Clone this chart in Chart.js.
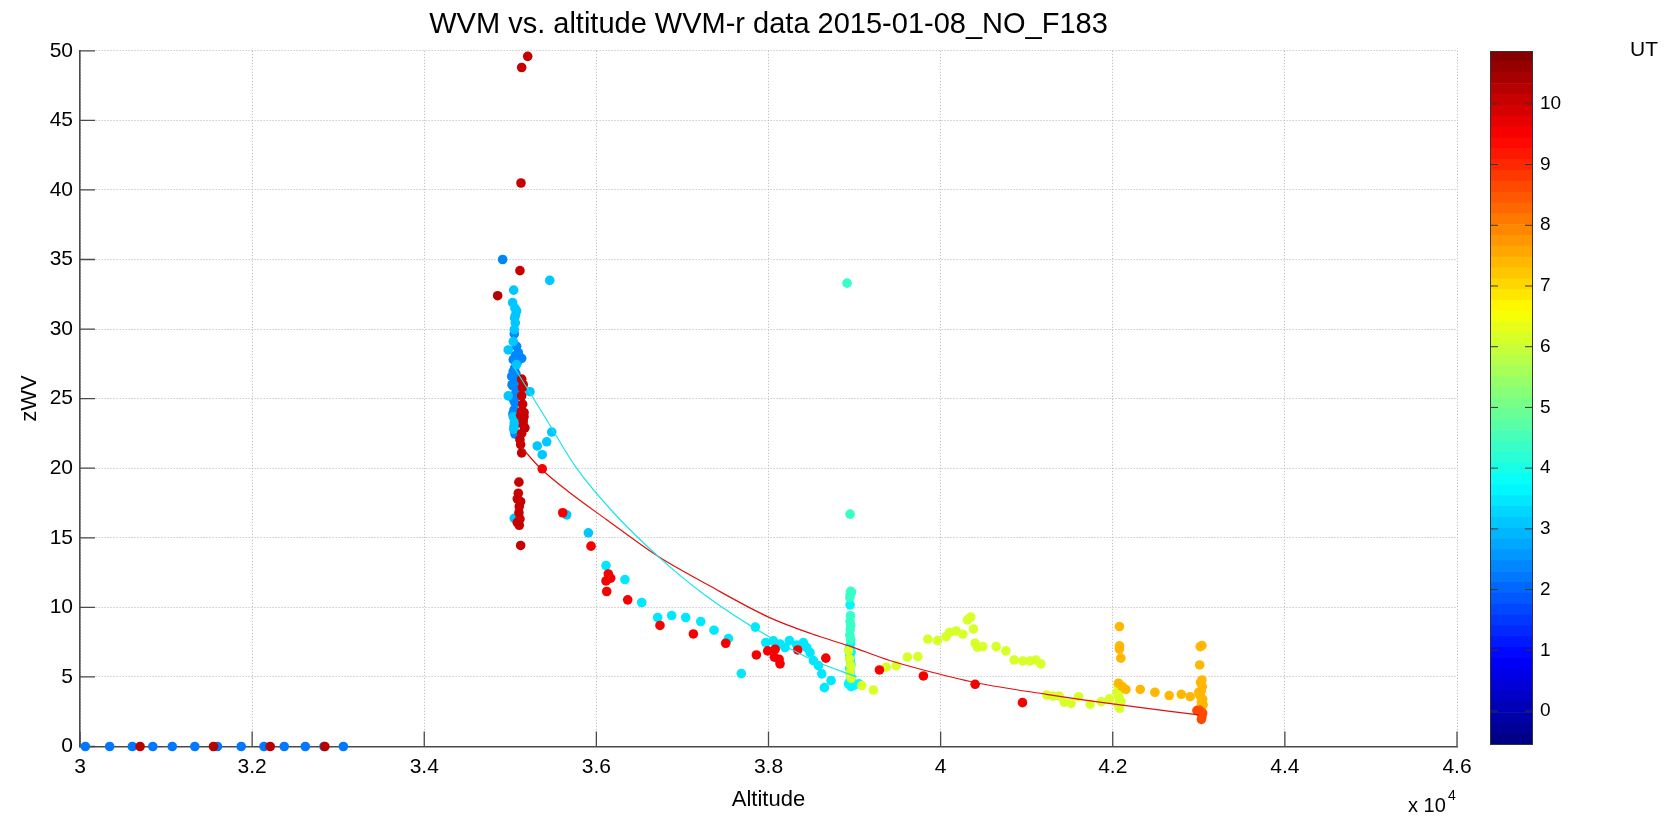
<!DOCTYPE html>
<html>
<head>
<meta charset="utf-8">
<title>WVM vs. altitude</title>
<script src="https://cdn.jsdelivr.net/npm/chart.js@4.4.1/dist/chart.umd.min.js"></script>
<style>
  html, body { margin: 0; padding: 0; background: #fff; overflow: hidden; }
  #wrap { position: relative; width: 1677px; height: 817px; }
  #main { position: absolute; left: 0; top: 0; }
  #cbar { position: absolute; left: 1440px; top: 0; }
</style>
</head>
<body>
<div id="wrap">
  <canvas id="main" width="1677" height="817"></canvas>
  <canvas id="cbar" width="237" height="817"></canvas>
</div>
<script>
'use strict';

/* --- DATA --- */

// axis ticks
const altTicks = [30000, 32000, 34000, 36000, 38000, 40000, 42000, 44000, 46000];
const wvTicks  = [0, 5, 10, 15, 20, 25, 30, 35, 40, 45, 50];
const utTicks  = [0, 1, 2, 3, 4, 5, 6, 7, 8, 9, 10];

// colour limits of the UT colorbar
const utMin = -0.56;
const utMax = 10.87;

// climb, low levels (UT ~2.2)
const climbUT  = 2.2;
const climbAlt = [30062, 30345, 30608, 30846, 31072, 31334, 31597, 31873, 32138, 32373, 32618, 32835, 33060];
const climbWv  = [0, 0, 0, 0, 0, 0, 0, 0, 0, 0, 0, 0, 0];

// 35 kft column, blue (UT ~2.4)
const blue35UT  = 2.4;
const blue35Alt = [34911, 35046, 35073, 35093, 35132, 35034, 35060, 35080, 35034, 35016, 35054, 35020,
                   35034, 35073, 35034, 35054, 35040, 35043, 35030, 35060, 35045, 35054, 35050, 35065];
const blue35Wv  = [35.0, 29.65, 28.76, 28.3, 27.9, 27.8, 28.1, 27.6, 26.96, 26.6, 26.25, 26.0,
                   25.9, 25.5, 25.2, 24.7, 24.9, 24.2, 23.9, 23.5, 23.0, 22.46, 27.2, 26.8];

// 35 kft column, cyan (UT ~3.1)
const cyan35UT  = 3.1;
const cyan35Alt = [35458, 35039, 35027, 35054, 35073, 35058, 35046, 35034, 34976, 35073, 35228, 34976,
                   35034, 35046, 35040, 35481, 35423, 35313, 35371, 35046, 35655, 35907, 35060, 35050];
const cyan35Wv  = [33.5, 32.8, 31.9, 31.5, 31.3, 30.45, 29.96, 29.1, 28.5, 27.45, 25.5, 25.2,
                   23.7, 23.25, 22.8, 22.6, 21.9, 21.6, 20.97, 16.4, 16.65, 15.36, 31.0, 30.8];

// climb 36-39 kft (UT ~3.4)
const cyanClimbUT  = 3.4;
const cyanClimbAlt = [36112, 36332, 36527, 36712, 36875, 37038, 37213, 37367, 37534, 37684, 37847, 37968, 38057,
                      38134, 38192, 38243, 38328, 38405, 38445, 38483, 38522, 38580, 38619, 38727, 38650];
const cyanClimbWv  = [13.0, 12.0, 10.35, 9.27, 9.41, 9.27, 8.98, 8.36, 7.76, 5.24, 8.58, 7.47, 7.59,
                      7.37, 7.11, 7.61, 7.3, 7.47, 7.11, 6.75, 6.17, 5.81, 5.22, 4.74, 4.23];

// 39 kft column, cyan (UT ~3.7)
const cyan39UT  = 3.7;
const cyan39Alt = [38948, 38955, 38940, 38960, 38945, 38950, 38958, 38942, 38950, 38960, 38930, 38990, 39050, 38960, 38945, 38975];
const cyan39Wv  = [10.18, 7.4, 7.1, 6.8, 6.5, 6.2, 5.9, 5.6, 5.3, 5.0, 4.5, 4.4, 4.5, 4.3, 4.7, 4.6];

// 39 kft column, aquamarine (UT ~4.4)
const aqua39UT  = 4.4;
const aqua39Alt = [38913, 38948, 38955, 38965, 38950, 38945, 38952, 38948, 38955, 38950, 38945, 38955];
const aqua39Wv  = [33.3, 16.7, 11.15, 11.1, 10.95, 10.7, 9.4, 9.0, 8.7, 8.4, 8.0, 7.7];

// 39-42 kft (UT ~6.2)
const yellowUT  = 6.2;
const yellowAlt = [38930, 38940, 38955, 38945, 38960, 39084, 39219, 39367, 39483, 39614, 39735, 39851, 39963,
                   40064, 40103, 40180, 40258, 40311, 40350, 40381, 40401, 40428, 40490, 40645, 40758, 40854,
                   40955, 41040, 41106, 41165, 41234, 41304, 41377, 41439, 41517, 41602, 41738, 41866, 41962,
                   42050, 42060, 42075, 42070, 42085, 42065, 42080, 42095];
const yellowWv  = [6.9, 6.3, 5.8, 5.3, 4.9, 4.38, 4.06, 5.7, 5.81, 6.42, 6.46, 7.71, 7.61,
                   7.9, 8.2, 8.3, 8.07, 9.1, 9.3, 8.45, 7.42, 7.14, 7.18, 7.18, 6.87, 6.22,
                   6.15, 6.15, 6.22, 5.94, 3.7, 3.63, 3.63, 3.18, 3.1, 3.58, 3.04, 3.22, 3.42,
                   3.9, 4.4, 4.0, 3.6, 3.3, 3.0, 2.75, 3.2];

// 42-43 kft (UT ~7.3)
const orangeUT  = 7.3;
const orangeAlt = [42078, 42078, 42078, 42094, 42067, 42110, 42153, 42319, 42490, 42656, 42796, 42900,
                   43016, 43036, 43010, 43036, 43020, 43040, 43030, 43010, 43045, 43030, 43000, 43050, 43020];
const orangeWv  = [8.62, 7.23, 7.0, 6.35, 4.55, 4.3, 4.1, 4.1, 3.9, 3.66, 3.75, 3.58,
                   7.18, 7.25, 5.86, 4.78, 4.6, 4.3, 4.0, 3.7, 3.4, 3.2, 3.9, 3.0, 2.8];

// top of climb (UT ~8.6)
const topUT  = 8.6;
const topAlt = [42978, 43036, 43030, 43010, 43045];
const topWv  = [2.58, 2.14, 1.95, 2.6, 2.4];

// step down 41-35 kft (UT ~9.6)
const redStepUT  = 9.6;
const redStepAlt = [40951, 40401, 39800, 39289, 38666, 38340, 38134, 38123, 38069, 38077, 37991, 37859,
                    37503, 37127, 36739, 36364, 36166, 36139, 36112, 36120, 35938, 35609, 35371];
const redStepWv  = [3.15, 4.47, 5.07, 5.5, 6.35, 6.94, 5.94, 6.27, 6.42, 6.99, 6.87, 6.58,
                    7.42, 8.09, 8.7, 10.54, 12.1, 12.4, 11.9, 11.14, 14.4, 16.8, 19.96];

// 35 kft column, red (UT ~10.0)
const red35UT  = 10.0;
const red35Alt = [35202, 35132, 35124, 35112, 35132, 35150, 35140, 35132, 35143, 35160, 35132, 35120, 35159, 35150, 35151,
                  35170, 35132, 35112, 35120, 35132, 35100, 35093, 35081, 35120, 35104, 35100, 35112, 35104, 35081, 35120];
const red35Wv  = [49.6, 48.8, 40.5, 34.2, 26.4, 26.0, 25.8, 25.2, 24.6, 24.0, 24.1, 23.8, 23.7, 23.4, 23.1,
                  22.9, 22.5, 22.05, 21.7, 21.1, 19.0, 18.2, 17.8, 17.6, 17.25, 16.8, 16.35, 15.9, 16.1, 14.45];

// descent (UT ~10.3)
const descentUT  = 10.3;
const descentAlt = [34853, 30698, 31551, 32210, 32845];
const descentWv  = [32.4, 0, 0, 0, 0];

// fitted curves
const fitCyanAlt = [35050, 35420, 35770, 36200, 36720, 37280, 38000, 38520, 39025];
const fitCyanWv  = [27.2, 23.5, 20.0, 16.8, 13.65, 10.8, 7.9, 6.2, 5.0];
const fitRedAlt  = [35130, 35350, 35700, 36120, 36720, 37300, 38000, 38500, 38950, 39400, 39800, 40400, 41230, 42000, 43000];
const fitRedWv   = [21.5, 20.0, 18.2, 16.3, 13.65, 11.6, 9.3, 8.1, 7.2, 6.2, 5.5, 4.6, 3.75, 3.06, 2.27];

/* --- STYLE --- */

const FONT = "'Liberation Sans', Arial, Helvetica, sans-serif";
Chart.defaults.font.family = FONT;
Chart.defaults.color = '#000';

// MATLAB jet, 64 levels
function jet(ut) {
  const f0 = (ut - utMin) / (utMax - utMin);
  const idx = Math.min(63, Math.max(0, Math.floor(f0 * 64)));
  const f = (idx + 0.5) / 64;
  const ch = c => Math.round(255 * Math.min(1, Math.max(0, 1.5 - Math.abs(4 * f - c))));
  return `rgb(${ch(3)},${ch(2)},${ch(1)})`;
}

function toPoints(alt, wv) {
  return alt.map((a, i) => ({ x: a, y: wv[i] }));
}

const groups = [
  [climbAlt, climbWv, climbUT],
  [blue35Alt, blue35Wv, blue35UT],
  [cyan35Alt, cyan35Wv, cyan35UT],
  [cyanClimbAlt, cyanClimbWv, cyanClimbUT],
  [cyan39Alt, cyan39Wv, cyan39UT],
  [aqua39Alt, aqua39Wv, aqua39UT],
  [yellowAlt, yellowWv, yellowUT],
  [orangeAlt, orangeWv, orangeUT],
  [topAlt, topWv, topUT],
  [redStepAlt, redStepWv, redStepUT],
  [red35Alt, red35Wv, red35UT],
  [descentAlt, descentWv, descentUT],
];

const scatterSets = groups.map(([alt, wv, ut]) => ({
  data: toPoints(alt, wv),
  backgroundColor: jet(ut),
  borderWidth: 0,
  pointRadius: 4.8,
  pointHoverRadius: 4.8,
  clip: false,
  order: -ut,
}));

const fitSets = [
  { data: toPoints(fitCyanAlt, fitCyanWv), color: '#14e6e6' },
  { data: toPoints(fitRedAlt, fitRedWv), color: '#e01010' },
].map(f => ({
  data: f.data,
  showLine: true,
  borderColor: f.color,
  borderWidth: 1.2,
  pointRadius: 0,
  cubicInterpolationMode: 'monotone',
  order: -100,
}));

/* --- PLUGINS --- */

// inward tick marks + "x 10^4" exponent label
const matlabAxes = {
  id: 'matlabAxes',
  beforeDatasetsDraw(chart) {
    const { ctx, chartArea: a, scales: { x, y } } = chart;
    ctx.save();
    ctx.strokeStyle = '#4a4a4a';
    ctx.lineWidth = 1.3;
    ctx.beginPath();
    x.ticks.forEach(t => {
      const px = x.getPixelForValue(t.value);
      ctx.moveTo(px, a.bottom);
      ctx.lineTo(px, a.bottom - 15);
    });
    y.ticks.forEach(t => {
      const py = y.getPixelForValue(t.value);
      ctx.moveTo(a.left, py);
      ctx.lineTo(a.left + 15, py);
    });
    ctx.stroke();
    ctx.restore();
  },
  afterDraw(chart) {
    const { ctx, chartArea: a } = chart;
    ctx.save();
    ctx.fillStyle = '#000';
    ctx.textBaseline = 'alphabetic';
    ctx.font = `20px ${FONT}`;
    ctx.fillText('x 10', a.right - 49, 812);
    ctx.font = `14px ${FONT}`;
    ctx.fillText('4', a.right - 9, 800);
    ctx.restore();
  },
};

// outline, ticks and "UT" label of the colorbar
const colorbarFrame = {
  id: 'colorbarFrame',
  afterDraw(chart) {
    const { ctx, chartArea: a, scales: { y } } = chart;
    ctx.save();
    ctx.strokeStyle = '#333';
    ctx.lineWidth = 1;
    ctx.strokeRect(a.left + 0.5, a.top + 0.5, a.right - a.left - 1, a.bottom - a.top - 1);
    ctx.beginPath();
    y.ticks.forEach(t => {
      const py = y.getPixelForValue(t.value);
      ctx.moveTo(a.left, py);
      ctx.lineTo(a.left + 8, py);
      ctx.moveTo(a.right, py);
      ctx.lineTo(a.right - 8, py);
    });
    ctx.stroke();
    ctx.fillStyle = '#000';
    ctx.font = `21px ${FONT}`;
    ctx.textBaseline = 'middle';
    ctx.fillText('UT', 190, 50);
    ctx.restore();
  },
};

/* --- MAIN CHART --- */

const gridStyle = { color: '#b4b4b4', lineWidth: 1, drawTicks: false };
const borderStyle = { color: '#4a4a4a', width: 1.6, dash: [1, 2] };

new Chart(document.getElementById('main'), {
  type: 'scatter',
  data: { datasets: [...fitSets, ...scatterSets] },
  options: {
    responsive: false,
    animation: false,
    events: [],
    layout: { padding: { left: 0, right: 220, top: 0, bottom: 0 } },
    plugins: {
      legend: { display: false },
      tooltip: { enabled: false },
      title: {
        display: true,
        fullSize: false,
        text: 'WVM vs. altitude WVM-r data 2015-01-08_NO_F183',
        color: '#000',
        font: { size: 29, weight: 'normal' },
        padding: { top: 8, bottom: 8 },
      },
    },
    scales: {
      x: {
        type: 'linear',
        min: 30000,
        max: 46000,
        afterBuildTicks: s => { s.ticks = altTicks.map(v => ({ value: v })); },
        afterFit: s => { s.height = 70.5; },
        ticks: {
          font: { size: 21 },
          color: '#000',
          padding: 8,
          maxRotation: 0,
          callback: v => String(Math.round(v / 1000) / 10),
        },
        grid: gridStyle,
        border: borderStyle,
        title: { display: true, text: 'Altitude', font: { size: 22 }, color: '#000', padding: { top: 0, bottom: 4 } },
      },
      y: {
        type: 'linear',
        min: 0,
        max: 50,
        afterBuildTicks: s => { s.ticks = wvTicks.map(v => ({ value: v })); },
        afterFit: s => { s.width = 80; },
        ticks: { font: { size: 21 }, color: '#000', padding: 7 },
        grid: gridStyle,
        border: borderStyle,
        title: { display: true, text: 'zWV', font: { size: 22 }, color: '#000', padding: { top: 17, bottom: 0 } },
      },
    },
  },
  plugins: [matlabAxes],
});

/* --- COLORBAR --- */

const levelCount = 64;
const levelStep = (utMax - utMin) / levelCount;
const levelSets = Array.from({ length: levelCount }, (_, i) => {
  const lo = utMin + i * levelStep;
  return {
    data: [[lo, lo + levelStep]],
    backgroundColor: jet(lo + levelStep / 2),
    borderWidth: 0,
    grouped: false,
    barPercentage: 1,
    categoryPercentage: 1,
  };
});

new Chart(document.getElementById('cbar'), {
  type: 'bar',
  data: { labels: ['UT'], datasets: levelSets },
  options: {
    responsive: false,
    animation: false,
    events: [],
    layout: { padding: { left: 50, right: 0, top: 51, bottom: 72 } },
    plugins: { legend: { display: false }, tooltip: { enabled: false } },
    scales: {
      x: { display: false },
      y: {
        position: 'right',
        min: utMin,
        max: utMax,
        afterBuildTicks: s => { s.ticks = utTicks.map(v => ({ value: v })); },
        afterFit: s => { s.width = 144; },
        ticks: { font: { size: 19 }, color: '#000', padding: 7 },
        grid: { display: false, drawTicks: false },
        border: { display: false },
      },
    },
  },
  plugins: [colorbarFrame],
});
</script>
</body>
</html>
